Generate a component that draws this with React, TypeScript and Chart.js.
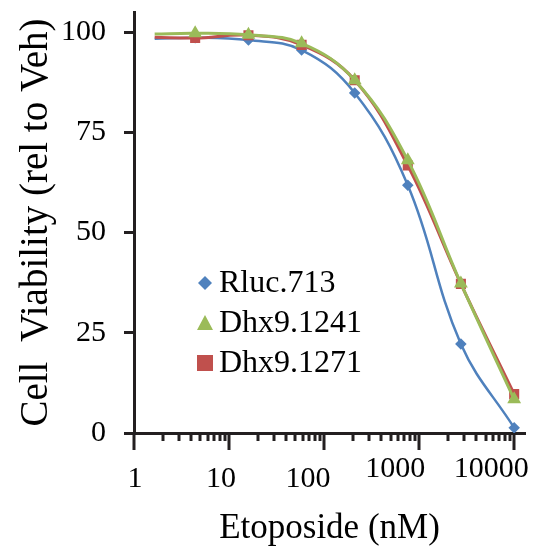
import React, { useEffect, useRef } from "react";
import { Chart, registerables } from "chart.js";

Chart.register(...registerables);

const concentrations = [1.65, 4.4, 16, 58, 210, 760, 2750, 10000];
const rluc713 = [98.3, 98.6, 98.0, 95.5, 84.8, 61.8, 22.2, 1.3];
const dhx1241 = [99.5, 99.7, 99.3, 97.2, 88.0, 68.0, 37.3, 8.4];
const dhx1271 = [98.7, 98.5, 99.2, 96.8, 88.0, 66.7, 37.2, 9.7];
const seriesNames = ["Rluc.713", "Dhx9.1241", "Dhx9.1271"];
const seriesColors = ["#4F81BD", "#9BBB59", "#C0504D"];
const yTickValues = [0, 25, 50, 75, 100];
const xDecades = [1, 10, 100, 1000, 10000];
const xTickLabels = ["1", "10", "100", "1000", "10000"];

const SERIF = "'Liberation Serif', 'Times New Roman', serif";
const INK = "#231F20";

// label nudges (style only): horizontal shift and baseline distance below axis
const LABEL_DX = [1, -8, -16, -24, -23];
const LABEL_DY = [54, 54, 54, 44, 44];

function toPoints(ys: number[]) {
  return concentrations.map((x, i) => ({ x, y: ys[i] }));
}

const tickPlugin = {
  id: "logTicks",
  afterDraw(chart: any) {
    const { ctx } = chart;
    const xs = chart.scales.x;
    const axisY = chart.chartArea.bottom;
    ctx.save();
    ctx.strokeStyle = INK;
    ctx.lineWidth = 3;
    ctx.lineCap = "butt";
    for (let d = 0; d < xDecades.length; d++) {
      for (let m = 1; m <= 9; m++) {
        const v = xDecades[d] * m;
        if (v > xs.max) continue;
        if (m > 1 && d === xDecades.length - 1) continue;
        const px = Math.round(xs.getPixelForValue(v));
        const len = m === 1 ? 17 : 8;
        ctx.beginPath();
        ctx.moveTo(px, axisY);
        ctx.lineTo(px, axisY + len);
        ctx.stroke();
      }
    }
    ctx.fillStyle = "#000";
    ctx.font = `30px ${SERIF}`;
    ctx.textAlign = "center";
    ctx.textBaseline = "alphabetic";
    xDecades.forEach((v, i) => {
      const px = xs.getPixelForValue(v);
      ctx.fillText(xTickLabels[i], px + LABEL_DX[i], axisY + LABEL_DY[i]);
    });
    ctx.restore();
  },
};

const legendPlugin = {
  id: "innerLegend",
  afterDraw(chart: any) {
    const { ctx } = chart;
    const x0 = 205;
    const yStart = 283;
    const step = 40;
    ctx.save();
    chart.data.datasets.forEach((ds: any, i: number) => {
      const y = yStart + i * step;
      ctx.fillStyle = ds.borderColor;
      ctx.beginPath();
      if (ds.pointStyle === "rectRot") {
        ctx.moveTo(x0, y - 7);
        ctx.lineTo(x0 + 7, y);
        ctx.lineTo(x0, y + 7);
        ctx.lineTo(x0 - 7, y);
      } else if (ds.pointStyle === "triangle") {
        ctx.moveTo(x0, y - 8);
        ctx.lineTo(x0 + 8, y + 7);
        ctx.lineTo(x0 - 8, y + 7);
      } else {
        ctx.rect(x0 - 8, y - 8, 16, 16);
      }
      ctx.closePath();
      ctx.fill();
      ctx.fillStyle = "#000";
      ctx.font = `32px ${SERIF}`;
      ctx.textAlign = "left";
      ctx.textBaseline = "middle";
      ctx.fillText(ds.label, x0 + 14, y + 1);
    });
    ctx.restore();
  },
};

export default function App() {
  const canvasRef = useRef<HTMLCanvasElement | null>(null);

  useEffect(() => {
    if (!canvasRef.current) return;
    const radius = (r: number) => (c: any) => (c.dataIndex === 0 ? 0 : r);
    const chart = new Chart(canvasRef.current, {
      type: "line",
      data: {
        datasets: [
          {
            label: seriesNames[0],
            data: toPoints(rluc713),
            borderColor: seriesColors[0],
            backgroundColor: seriesColors[0],
            pointStyle: "rectRot",
            pointRadius: radius(4),
            borderWidth: 2.5,
            tension: 0.4,
            order: 2,
          },
          {
            label: seriesNames[1],
            data: toPoints(dhx1241),
            borderColor: seriesColors[1],
            backgroundColor: seriesColors[1],
            pointStyle: "triangle",
            pointRadius: radius(5),
            borderWidth: 3,
            tension: 0.4,
            order: 0,
          },
          {
            label: seriesNames[2],
            data: toPoints(dhx1271),
            borderColor: seriesColors[2],
            backgroundColor: seriesColors[2],
            pointStyle: "rect",
            pointRadius: radius(5),
            borderWidth: 3,
            tension: 0.4,
            order: 1,
          },
        ],
      },
      options: {
        responsive: false,
        animation: false,
        events: [],
        layout: { padding: { top: 12, right: 14, left: 0, bottom: 0 } },
        plugins: {
          legend: { display: false },
          tooltip: { enabled: false },
        },
        scales: {
          x: {
            type: "logarithmic",
            min: 1,
            max: 13000,
            afterBuildTicks: (scale: any) => {
              scale.ticks = xDecades.map((v) => ({ value: v, major: true }));
            },
            afterFit: (scale: any) => {
              scale.height = 124;
              scale.paddingLeft = 0;
              scale.paddingRight = 0;
              scale.paddingTop = 0;
              scale.paddingBottom = 0;
            },
            grid: { display: false, drawTicks: false },
            border: { display: true, width: 3, color: INK },
            ticks: { display: false },
            title: {
              display: true,
              text: "Etoposide (nM)",
              color: "#000",
              font: { family: SERIF, size: 35 },
              padding: { top: 0, bottom: 7 },
            },
          },
          y: {
            min: 0,
            max: 105,
            afterBuildTicks: (scale: any) => {
              scale.ticks = yTickValues.map((v) => ({ value: v }));
            },
            afterFit: (scale: any) => {
              scale.width = 134;
              scale.paddingLeft = 0;
              scale.paddingRight = 0;
              scale.paddingTop = 0;
              scale.paddingBottom = 0;
            },
            grid: {
              display: true,
              drawOnChartArea: false,
              drawTicks: true,
              tickLength: 10,
              tickWidth: 3,
              tickColor: INK,
            },
            border: { display: true, width: 3, color: INK },
            ticks: {
              padding: 18,
              color: "#000",
              font: { family: SERIF, size: 30 },
            },
            title: {
              display: true,
              text: "Cell  Viability (rel to Veh)",
              color: "#000",
              font: { family: SERIF, size: 39 },
              padding: { top: 13, bottom: 0 },
            },
          },
        },
      },
      plugins: [tickPlugin, legendPlugin],
    });
    return () => chart.destroy();
  }, []);

  return (
    <div style={{ position: "fixed", left: 0, top: 0, width: 539, height: 557, background: "#fff" }}>
      <canvas ref={canvasRef} width={539} height={557} style={{ display: "block" }} />
    </div>
  );
}
